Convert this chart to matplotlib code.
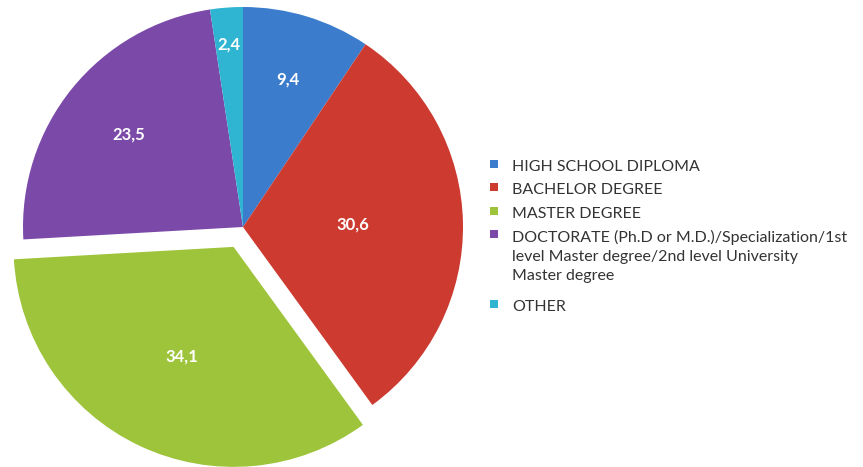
import numpy as np
import matplotlib.pyplot as plt
from matplotlib.patches import Rectangle

plt.rcParams['font.family'] = ['Lato', 'DejaVu Sans']

categories = ['HIGH SCHOOL DIPLOMA', 'BACHELOR DEGREE', 'MASTER DEGREE',
              'DOCTORATE (Ph.D or M.D.)/Specialization/1st\nlevel Master degree/2nd level University\nMaster degree',
              'OTHER']
values = [9.4, 30.6, 34.1, 23.5, 2.4]
colors = ['#3b7dcc', '#cc3a30', '#9dc43b', '#7b4aa9', '#2fb5d1']
explode = [0, 0, 0.1, 0, 0]
label_dist = [0.70, 0.50, 0.55, 0.67, 0.83]

W, H = 863, 467
R = 220

fig = plt.figure(figsize=(W / 100, H / 100), dpi=100)
ax = fig.add_axes([0, 0, 486 / W, 1])

wedges, texts, autotexts = ax.pie(values, colors=colors, explode=[e * R for e in explode],
                                  startangle=90, counterclock=False, radius=R,
                                  autopct=lambda p: f'{p:.1f}'.replace('.', ','),
                                  textprops=dict(color='white', fontsize=12, fontweight='bold'),
                                  wedgeprops=dict(linewidth=0))

# move each value label along its wedge's mid angle
for w, t, d in zip(wedges, autotexts, label_dist):
    ang = np.deg2rad((w.theta1 + w.theta2) / 2)
    cx, cy = w.center
    t.set_position((cx + d * w.r * np.cos(ang), cy + d * w.r * np.sin(ang)))

ax.set_xlim(-243, 243)
ax.set_ylim(-240, 227)
ax.set_aspect('equal')
ax.axis('off')

# legend drawn by hand so the swatch sits on the first line of wrapped labels
line_h = 23.3
y = 164
for lab, c in zip(categories, colors):
    fig.patches.append(Rectangle((490 / W, 1 - (y + 4) / H), 8 / W, 8 / H,
                                 transform=fig.transFigure, facecolor=c, edgecolor='none'))
    fig.text(512 / W, 1 - (y - 4) / H, lab, fontsize=11.5, color='#333333',
             va='top', ha='left', linespacing=1.45)
    y += line_h * (lab.count('\n') + 1)

fig.savefig('out.png', dpi=100)
